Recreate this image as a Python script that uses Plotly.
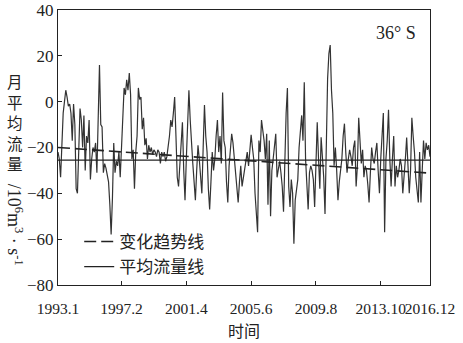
import plotly.graph_objects as go

# Monthly mean flow (10^6 m^3/s), 1993.1 - 2016.12
seg1 = [-22, -25, -33, -15, -5, 0, 5, 2, -2, -1, -5, -17, -1, -10, -38, -40, -25, -3, -8, -20,
        -6, -30, -15, -18, -8, -34, -25, -20, -22, -18, -31, -5, 16, -10, -11, -31, -27, -29, -33, -35,
        -45, -58, -42]
seg2 = [-18, -31, -26, -28, -22, -33, -20, -10, 6, 3, 9.5, 5, 12.5, 3, -25, -21, -38, -22, -15, 6,
        1, 2, -12, -7, -19, -16, -25, -19, -22, -20, -23, -21, -22, -24, -21, -22, -27, -22, -24]
seg3 = [-22, -26, -24, -20, -15, -8, -11, -5, 2, -15, -33, -37, -28, -18, -9, -30, -43, -25, -10, 5,
        -8, -20, -27, -35, -43, -30, -19, -25, -31, -40, -20, -1.5, -15, -22, -38, -47, -35, -22, -30, -25,
        -15, -8, -22]
seg4 = [-15, -27, 4, -17, -20, -35, -44, -28, -20, -14, -18, -25, -31, -38, -44, -35, -28, -37, -33, -30,
        -25, -22, -28, -20, -14.5, -20, -25, -40, -50, -57, -17, -22, -8, -12, -17, -25, -14, -45, -17, -50,
        -30]
seg5 = [-25, -18, -14, -33, -30, -26, -31, -37, -48, -25, -5, 6, -37, -46, -34, -40, -62, -43, -38, -34,
        -20, -11, -6, -17, 8.5, -25, -38, -47, -31, -28, -30, -34, -46, -25, -9, -25, -38, -15.5, -25, -33,
        -49, -20, 10]
seg6 = [21, 24.7, 5, -5, -28, -20, -30, -43, -35, -30, -25, -15, -9.6, -22, -31, -25, -21, -24, -28, -20,
        -17, -37, -28, -7, -20, -27, -21, -33, -28, -30, -36, -44, -31, -20, -25, -27, -22, -18, -30, -40,
        -25]
seg7 = [-15, -5, -57, -25, -17, -3.5, -25, -37, -25, -15, -37, -28, -33, -30, -25, -28, -40, -34, -25, -15.6,
        -28, -40, -30, -7, -15, -22, -33, -40, -44, -22, -44, -30, -17, -25, -18, -21, -19, -24]

flow = seg1 + seg2 + seg3 + seg4 + seg5 + seg6 + seg7
months = list(range(len(flow)))

trend_start, trend_end = -20.0, -31.2
mean_flow = -25.5

tick_vals = [0, 49, 99, 149, 199, 249, 287]
tick_text = ["1993.1", "1997.2", "2001.4", "2005.6", "2009.8", "2013.10", "2016.12"]
y_ticks = [-80, -60, -40, -20, 0, 20, 40]
y_title_chars = ["月", "平", "均", "流", "量"]

x_end = months[-1]

fig = go.Figure()
fig.add_trace(go.Scatter(x=months, y=flow, mode="lines",
                         line=dict(color="#333333", width=1.2), showlegend=False))
fig.add_trace(go.Scatter(x=[0, x_end], y=[trend_start, trend_end], mode="lines",
                         name="变化趋势线", line=dict(color="#222222", width=1.6, dash="12px,5px")))
fig.add_trace(go.Scatter(x=[0, x_end], y=[mean_flow, mean_flow], mode="lines",
                         name="平均流量线", line=dict(color="#222222", width=1.4)))

serif = "Liberation Serif, Times New Roman, serif"
cjk = "Noto Sans CJK SC"

fig.update_layout(
    width=463, height=343,
    margin=dict(l=58, r=33, t=10, b=58, autoexpand=False),
    plot_bgcolor="white", paper_bgcolor="white",
    font=dict(family=serif, size=16, color="#222222"),
    legend=dict(x=0.057, y=0.0, xanchor="left", yanchor="bottom",
                bgcolor="rgba(0,0,0,0)", font=dict(family=cjk, size=17, color="#222222"),
                itemwidth=30, tracegroupgap=0),
    xaxis=dict(range=[0, x_end], tickvals=tick_vals, ticktext=tick_text, tickangle=0,
               tickfont=dict(family=serif, size=15.5), automargin=False,
               ticks="inside", ticklen=4, tickcolor="#222222", showgrid=False, zeroline=False,
               showline=True, linecolor="#222222", linewidth=1.2, mirror=True,
               ticklabelstandoff=9),
    yaxis=dict(range=[-80, 40], tickvals=y_ticks, automargin=False,
               tickfont=dict(family=serif, size=17),
               ticks="inside", ticklen=4, tickcolor="#222222", showgrid=False, zeroline=False,
               showline=True, linecolor="#222222", linewidth=1.2, mirror=True),
)

# vertical (stacked, upright) Chinese part of the y title
for i, ch in enumerate(y_title_chars):
    ypix = 81 + 20.5 * i
    fig.add_annotation(xref="paper", yref="paper", x=-0.116, y=(285 - ypix) / 275,
                       xanchor="center", yanchor="middle", text=ch, showarrow=False, borderpad=0,
                       font=dict(family=cjk, size=15.5, color="#222222"))
# rotated unit part of the y title
fig.add_annotation(xref="paper", yref="paper", x=-0.116, y=0.22, xanchor="center", yanchor="middle",
                   text="/10<sup>6</sup>m<sup>3</sup> · s<sup>-1</sup>", textangle=90, showarrow=False,
                   font=dict(family=serif, size=18, color="#222222"))
fig.add_annotation(xref="paper", yref="paper", x=0.968, y=0.916, xanchor="right", yanchor="middle",
                   text="36° S", showarrow=False, font=dict(family=serif, size=18, color="#222222"))
fig.add_annotation(xref="paper", yref="paper", x=0.5, y=-0.164, xanchor="center", yanchor="middle",
                   text="时间", showarrow=False, font=dict(family=cjk, size=16, color="#222222"))

fig.write_html("out.html")
